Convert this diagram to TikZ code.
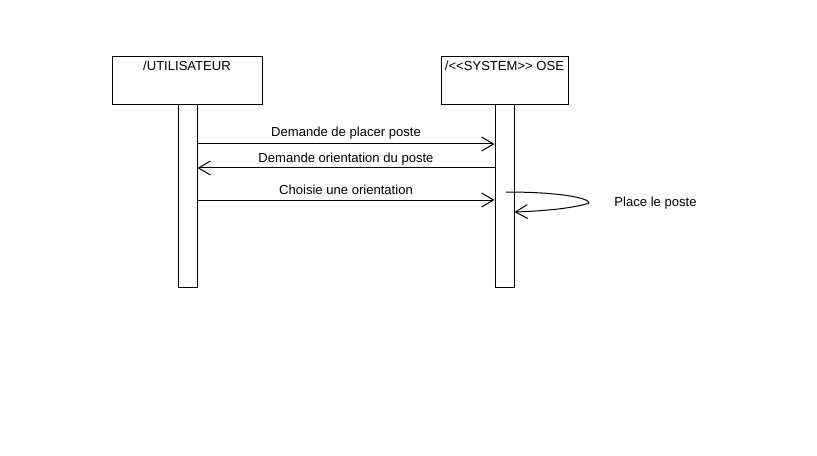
\documentclass[tikz,border=0pt]{standalone}
\usepackage{fontspec}
\setmainfont{Liberation Sans}
\usetikzlibrary{arrows.meta, positioning, calc}
\tikzstyle{lifebox} = [draw, line width=0.75pt, minimum width=112.5pt, minimum height=36pt, inner sep=0pt]
\tikzstyle{actbar} = [draw, line width=0.75pt, minimum width=14.25pt, minimum height=136.5pt, inner sep=0pt]
\tikzstyle{msg} = [line width=0.75pt, -{Straight Barb[length=9pt, width=10.5pt]}]
\tikzstyle{lbl} = [font=\fontsize{9.8}{11}\selectfont, inner sep=1pt]

\begin{document}
\begin{tikzpicture}[x=0.75pt, y=-0.75pt]
% Canvas
\useasboundingbox[fill=white] (0,0) rectangle (817,456);

% Lifelines
\node[lifebox] (user) at (187,81) {};
\node[lbl, below=2.5pt] (userlbl) at (user.north) {/UTILISATEUR};
\node[actbar] (ubar) at (187.5,196) {};

\node[lifebox, minimum width=95.25pt] (sys) at (504.5,81) {};
\node[lbl, below=2.5pt] (syslbl) at (sys.north) {/{<}{<}SYSTEM{>}{>} OSE};
\node[actbar] (sbar) at (504.5,196) {};

% Messages
\coordinate (m1) at (0,144);
\coordinate (m2) at (0,168);
\coordinate (m3) at (0,200);
\draw[msg] (ubar.east |- m1) -- (sbar.west |- m1) node[lbl, midway, yshift=8.5pt] (t1) {Demande de placer poste};
\draw[msg] (sbar.west |- m2) -- (ubar.east |- m2) node[lbl, midway, yshift=6.5pt] (t2) {Demande orientation du poste};
\draw[msg] (ubar.east |- m3) -- (sbar.west |- m3) node[lbl, midway, yshift=8pt] (t3) {Choisie une orientation};

% Self message
\coordinate (s1) at (506,192);
\coordinate (s2) at (589,203);
\coordinate (s3) at (sbar.east |- 0,212);
\draw[line width=0.75pt] (s1) .. controls (560,192) and (589,198) .. (s2);
\draw[msg] (s2) .. controls (575,208) and (545,211) .. (s3);
\node[lbl] (t4) at (655.5,203) {Place le poste};
\end{tikzpicture}
\end{document}
